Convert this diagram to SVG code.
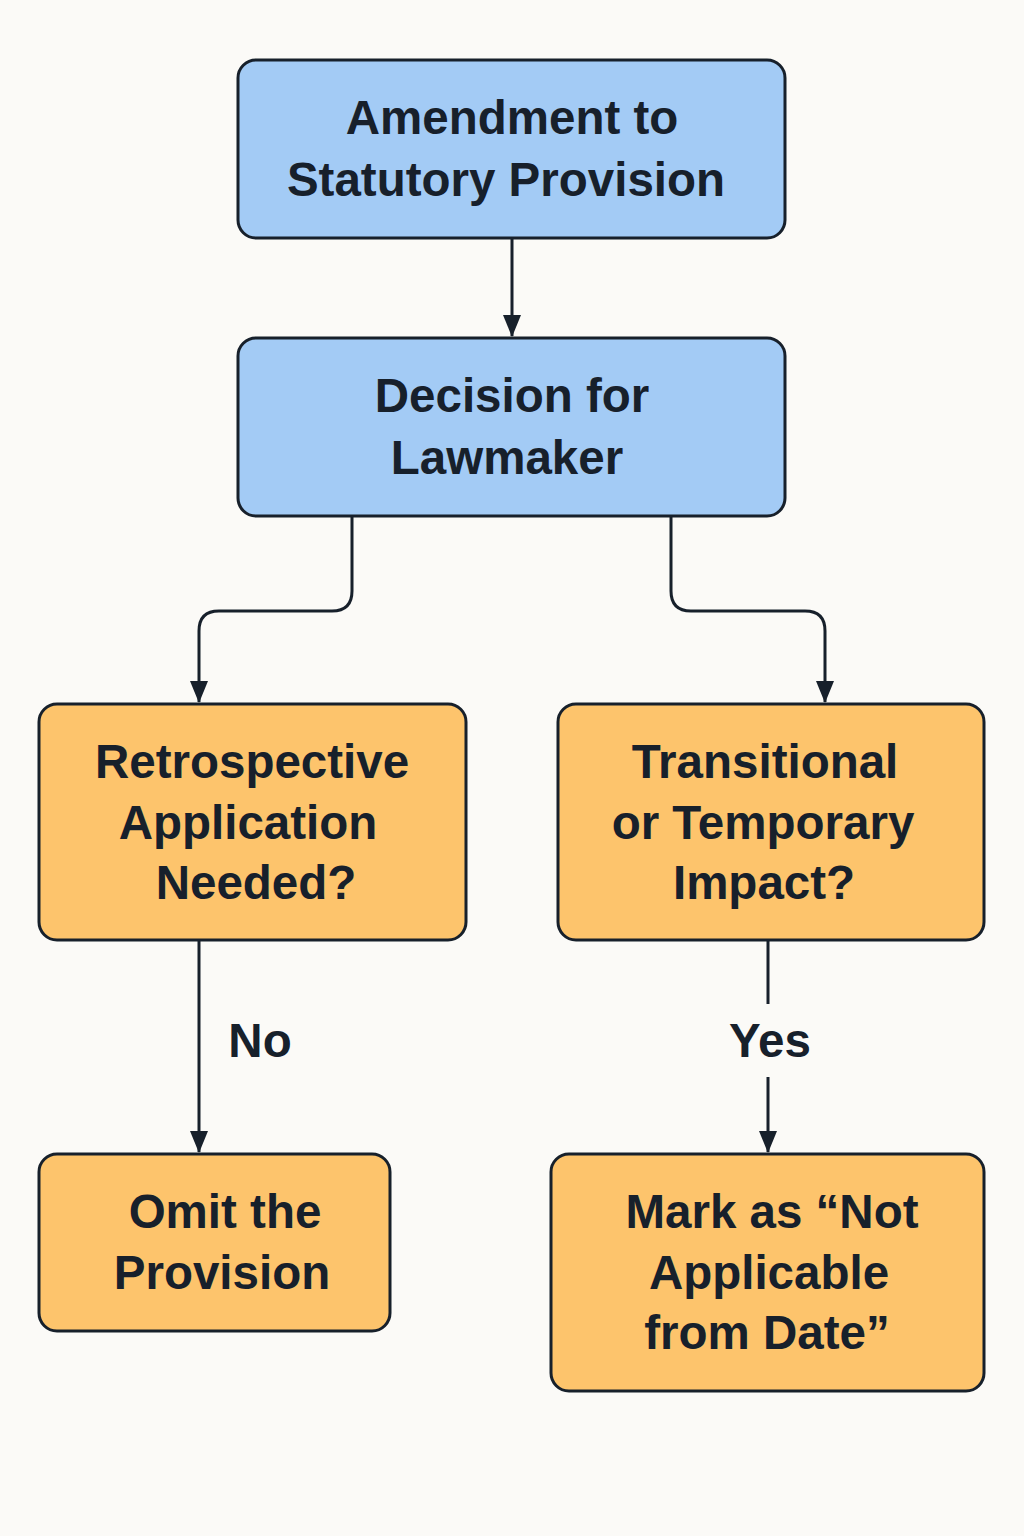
<svg xmlns="http://www.w3.org/2000/svg" width="1024" height="1536" viewBox="0 0 1024 1536">
<defs>
<style>
.blue{fill:#a3cbf5;stroke:#17202b;stroke-width:3}
.orange{fill:#fdc46c;stroke:#17202b;stroke-width:3}
.t{font-family:"Liberation Sans",Arial,sans-serif;font-weight:bold;font-size:47.5px;fill:#17202b;text-anchor:middle}
.c{fill:none;stroke:#17202b;stroke-width:3}
</style>
<marker id="arr" viewBox="0 0 22 18" refX="21" refY="9" markerWidth="22" markerHeight="18" orient="auto" markerUnits="userSpaceOnUse">
<path d="M0,0 L22,9 L0,18 Z" fill="#17202b"/>
</marker>
</defs>
<rect width="1024" height="1536" fill="#fbfaf7"/>
<g id="connectors">
<path class="c" d="M512,238 V336" marker-end="url(#arr)"/>
<path class="c" d="M352,516 V591 Q352,611 332,611 H219 Q199,611 199,631 V702" marker-end="url(#arr)"/>
<path class="c" d="M671,516 V591 Q671,611 691,611 H805 Q825,611 825,631 V702" marker-end="url(#arr)"/>
<path class="c" d="M199,940 V1152" marker-end="url(#arr)"/>
<path class="c" d="M768,940 V1004"/>
<path class="c" d="M768,1077 V1152" marker-end="url(#arr)"/>
<text class="t" x="260" y="1057">No</text>
<text class="t" x="770" y="1057">Yes</text>
</g>
<g id="n1">
<rect class="blue" x="238" y="60" width="547" height="178" rx="18"/>
<text class="t" x="512" y="134">Amendment to</text>
<text class="t" x="506" y="196">Statutory Provision</text>
</g>
<g id="n2">
<rect class="blue" x="238" y="338" width="547" height="178" rx="18"/>
<text class="t" x="512" y="412">Decision for</text>
<text class="t" x="507" y="474">Lawmaker</text>
</g>
<g id="n3">
<rect class="orange" x="39" y="704" width="427" height="236" rx="18"/>
<text class="t" x="252" y="778">Retrospective</text>
<text class="t" x="248" y="839">Application</text>
<text class="t" x="256" y="899">Needed?</text>
</g>
<g id="n4">
<rect class="orange" x="558" y="704" width="426" height="236" rx="18"/>
<text class="t" x="765" y="778">Transitional</text>
<text class="t" x="763" y="839">or Temporary</text>
<text class="t" x="764" y="899">Impact?</text>
</g>
<g id="n5">
<rect class="orange" x="39" y="1154" width="351" height="177" rx="18"/>
<text class="t" x="225" y="1228">Omit the</text>
<text class="t" x="222" y="1289">Provision</text>
</g>
<g id="n6">
<rect class="orange" x="551" y="1154" width="433" height="237" rx="18"/>
<text class="t" x="772" y="1228">Mark as “Not</text>
<text class="t" x="769" y="1289">Applicable</text>
<text class="t" x="767" y="1349">from Date”</text>
</g>
</svg>
